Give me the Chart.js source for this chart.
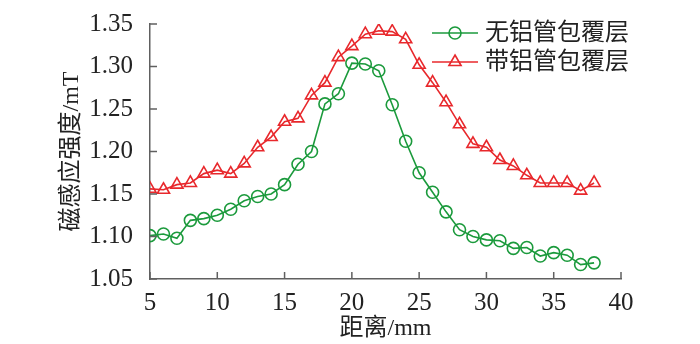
<!DOCTYPE html>
<html>
<head>
<meta charset="utf-8">
<script src="https://cdn.jsdelivr.net/npm/chart.js@4"></script>
<style>
  html, body { margin: 0; padding: 0; background: #fff; }
  #wrap { width: 700px; height: 344px; }
</style>
</head>
<body>
<div id="wrap"><canvas id="c" width="700" height="344"></canvas></div>
<script>
// distance (mm)
const distance = [5, 6, 7, 8, 9, 10, 11, 12, 13, 14, 15, 16, 17, 18, 19, 20, 21,
  22, 23, 24, 25, 26, 27, 28, 29, 30, 31, 32, 33, 34, 35, 36, 37, 38];
// 无铝管包覆层
const noAl = [1.101, 1.103, 1.098, 1.119, 1.121, 1.125, 1.132, 1.142, 1.147, 1.150,
  1.161, 1.185, 1.200, 1.256, 1.268, 1.304, 1.303, 1.295, 1.255, 1.212, 1.175,
  1.152, 1.129, 1.108, 1.100, 1.096, 1.095, 1.086, 1.087, 1.077, 1.081, 1.078,
  1.067, 1.069];
// 带铝管包覆层
const withAl = [1.156, 1.155, 1.161, 1.163, 1.174, 1.178, 1.174, 1.186, 1.205, 1.217,
  1.235, 1.239, 1.266, 1.281, 1.311, 1.324, 1.338, 1.342, 1.341, 1.332, 1.302,
  1.281, 1.258, 1.232, 1.209, 1.205, 1.190, 1.183, 1.172, 1.163, 1.163, 1.163,
  1.154, 1.163];
const xTicks = [5, 10, 15, 20, 25, 30, 35, 40];
const yTicks = [1.05, 1.10, 1.15, 1.20, 1.25, 1.30, 1.35];

const GREEN = '#1b9a3c';
const RED = '#e8282c';
const AXIS = '#606060';
const FONT = "'Liberation Serif', 'Noto Sans CJK SC', serif";

// inward tick marks + legend with line and marker
const extras = {
  id: 'extras',
  afterDraw(chart) {
    const ctx = chart.ctx;
    const xs = chart.scales.x, ys = chart.scales.y;
    ctx.save();
    ctx.strokeStyle = AXIS;
    ctx.lineWidth = 1.5;
    ctx.beginPath();
    xTicks.forEach(v => {
      const px = xs.getPixelForValue(v);
      ctx.moveTo(px, ys.bottom);
      ctx.lineTo(px, ys.bottom - 7);
    });
    yTicks.forEach(v => {
      const py = ys.getPixelForValue(v);
      ctx.moveTo(xs.left, py);
      ctx.lineTo(xs.left + 7, py);
    });
    ctx.stroke();

    // legend
    const rows = [33, 62];
    chart.data.datasets.forEach((ds, i) => {
      const y = rows[i];
      ctx.strokeStyle = ds.borderColor;
      ctx.lineWidth = 1.6;
      ctx.beginPath();
      ctx.moveTo(432, y);
      ctx.lineTo(478, y);
      ctx.stroke();
      ctx.fillStyle = 'rgba(0,0,0,0)';
      Chart.helpers.drawPoint(ctx, {
        pointStyle: ds.pointStyle,
        radius: ds.pointRadius,
        borderWidth: 1.6
      }, 455, y);
      ctx.fillStyle = '#222';
      ctx.font = "24px " + FONT;
      ctx.textAlign = 'left';
      ctx.textBaseline = 'middle';
      ctx.fillText(ds.label, 485, y + 1);
    });
    ctx.restore();
  }
};

new Chart(document.getElementById('c'), {
  type: 'line',
  data: {
    datasets: [
      {
        label: '无铝管包覆层',
        data: distance.map((d, i) => ({ x: d, y: noAl[i] })),
        borderColor: GREEN,
        backgroundColor: 'transparent',
        borderWidth: 1.6,
        pointStyle: 'circle',
        pointRadius: 6,
        pointBorderWidth: 1.6,
        pointBackgroundColor: 'transparent',
        tension: 0
      },
      {
        label: '带铝管包覆层',
        data: distance.map((d, i) => ({ x: d, y: withAl[i] })),
        borderColor: RED,
        backgroundColor: 'transparent',
        borderWidth: 1.6,
        pointStyle: 'triangle',
        pointRadius: 7,
        pointBorderWidth: 1.6,
        pointBackgroundColor: 'transparent',
        tension: 0
      }
    ]
  },
  options: {
    responsive: false,
    animation: false,
    layout: { padding: { left: 0, right: 79, top: 21, bottom: 0 } },
    plugins: { legend: { display: false }, tooltip: { enabled: false } },
    scales: {
      x: {
        type: 'linear',
        min: 5, max: 40,
        afterBuildTicks: s => { s.ticks = xTicks.map(v => ({ value: v })); },
        afterFit: s => { s.height = 65; },
        grid: { display: false },
        border: { display: true, color: AXIS, width: 1.5 },
        ticks: { color: '#222', padding: 1, font: { family: FONT, size: 25 } },
        title: {
          display: true, text: '距离/mm', color: '#222',
          font: { family: FONT, size: 24, lineHeight: 1 },
          padding: { top: 0, bottom: 3 }
        }
      },
      y: {
        min: 1.05, max: 1.35,
        afterBuildTicks: s => { s.ticks = yTicks.map(v => ({ value: v })); },
        afterFit: s => { s.width = 150; },
        grid: { display: false },
        border: { display: true, color: AXIS, width: 1.5 },
        ticks: {
          color: '#222', padding: 9, font: { family: FONT, size: 25 },
          callback: v => v.toFixed(2)
        },
        title: {
          display: true, text: '磁感应强度/mT', color: '#222',
          font: { family: FONT, size: 24, lineHeight: 1 },
          padding: { top: 60, bottom: 0 }
        }
      }
    }
  },
  plugins: [extras]
});
</script>
</body>
</html>
